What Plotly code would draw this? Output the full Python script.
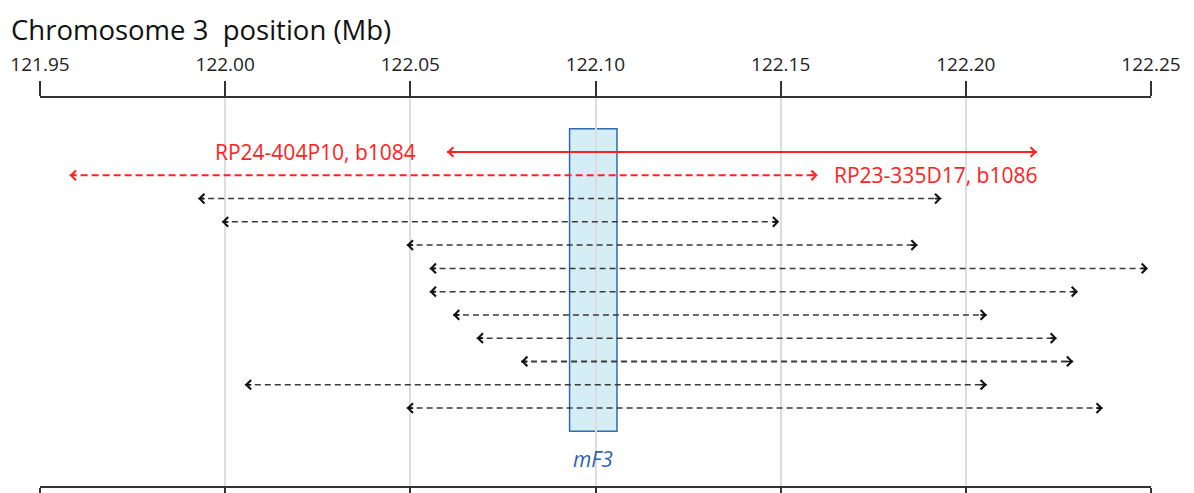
import plotly.graph_objects as go

# ---- data (Mb) ----
tick_vals = [121.95, 122.00, 122.05, 122.10, 122.15, 122.20, 122.25]
tick_text = ["121.95", "122.00", "122.05", "122.10", "122.15", "122.20", "122.25"]

clone_names = ["RP24-404P10, b1084", "RP23-335D17, b1086", "", "", "", "", "", "", "", "", "", ""]
clone_starts = [122.0599, 121.9580, 121.9927, 121.9991, 122.0490, 122.0552,
                122.0552, 122.0615, 122.0679, 122.0799, 122.0053, 122.0490]
clone_ends = [122.2192, 122.1600, 122.1934, 122.1496, 122.1870, 122.2492,
              122.2303, 122.2057, 122.2246, 122.2290, 122.2057, 122.2370]
clone_rows = [1, 2, 3, 4, 5, 6, 7, 8, 9, 10, 11, 12]

gene_name = "mF3"
gene_start = 122.0930
gene_end = 122.1058
gene_row_span = [0, 13]

# ---- styles ----
colors = ["#ff2222", "#ff2222"] + ["#3a3a3a"] * 10
dashes = ["solid", "7px,4px"] + ["6px,4px"] * 10
widths = [2, 1.8, 1.5, 1.5, 1.5, 1.5, 1.5, 1.5, 1.5, 2.0, 1.5, 1.5]
FONT = "Open Sans"

fig = go.Figure()

for s, e, r, c, d, w in zip(clone_starts, clone_ends, clone_rows, colors, dashes, widths):
    fig.add_trace(go.Scatter(x=[s, e], y=[r, r], mode="lines",
                             line=dict(color=c, width=w, dash=d),
                             hoverinfo="skip", showlegend=False))

annotations = []
for s, e, r, c in zip(clone_starts, clone_ends, clone_rows, colors):
    head_col = "#ff2222" if c == "#ff2222" else "#111111"
    for xv, axv in ((s, 8), (e, -8)):
        annotations.append(dict(x=xv, y=r, xref="x", yref="y", text="",
                                showarrow=True, ax=axv, ay=0, arrowhead=4,
                                arrowsize=1.1, arrowwidth=1.7, arrowcolor=head_col,
                                standoff=0, startstandoff=0))

# clone labels
annotations.append(dict(x=clone_starts[0], y=clone_rows[0], xref="x", yref="y",
                        text=clone_names[0], showarrow=False, xanchor="right",
                        xshift=-29, font=dict(family=FONT, size=21, color="#ff2222")))
annotations.append(dict(x=clone_ends[1], y=clone_rows[1], xref="x", yref="y",
                        text=clone_names[1], showarrow=False, xanchor="left",
                        xshift=14, font=dict(family=FONT, size=21, color="#ff2222")))

# gene label
annotations.append(dict(x=(gene_start + gene_end) / 2, y=14.2, xref="x", yref="y",
                        text="<i>" + gene_name + "</i>", showarrow=False,
                        font=dict(family=FONT, size=21, color="#2a62ad")))

# title
annotations.append(dict(x=0, y=1, xref="paper", yref="paper", xshift=-31, yshift=69,
                        xanchor="left", yanchor="middle",
                        text="Chromosome 3  position (Mb)", showarrow=False,
                        font=dict(family=FONT, size=27.5, color="#111111")))

fig.add_shape(type="rect", xref="x", yref="y", x0=gene_start, x1=gene_end,
              y0=gene_row_span[0], y1=gene_row_span[1],
              fillcolor="#d5edf4", line=dict(color="#2e6cb2", width=1.5), layer="below")

fig.update_layout(
    width=1186, height=485,
    margin=dict(l=32, r=43, t=90, b=7, autoexpand=False),
    paper_bgcolor="white", plot_bgcolor="white",
    annotations=annotations,
    xaxis=dict(range=[121.95, 122.25], side="top", tickvals=tick_vals, ticktext=tick_text,
               ticks="outside", ticklen=15, tickwidth=2, tickcolor="#333333",
               showline=True, linecolor="#333333", linewidth=2, mirror="ticks",
               showgrid=True, gridcolor="#dddddd", gridwidth=1.5, zeroline=False,
               automargin=False, ticklabelstandoff=2,
               tickfont=dict(family=FONT, size=19, color="#222222")),
    yaxis=dict(range=[15.35, -1.32], visible=False, showgrid=False, zeroline=False,
               automargin=False),
    font=dict(family=FONT),
)

fig.write_html("out.html")
